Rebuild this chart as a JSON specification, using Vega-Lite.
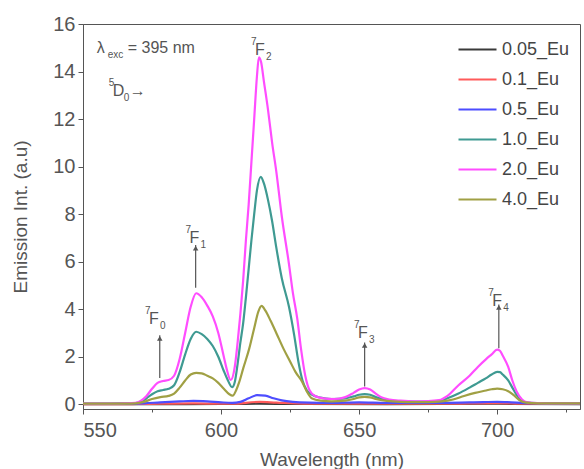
{
  "$schema": "https://vega.github.io/schema/vega-lite/v6.json",
  "autosize": "none",
  "width": 497,
  "height": 385,
  "padding": {"left": 83, "top": 24, "right": 4, "bottom": 60},
  "background": "white",
  "config": {
    "font": "Liberation Sans",
    "view": {"stroke": "#555", "strokeWidth": 1}
  },
  "datasets": {
    "spec": [
      {"w":550,"s":"0.05_Eu","v":0.0},{"w":580,"s":"0.05_Eu","v":0.0},{"w":600,"s":"0.05_Eu","v":0.01},{"w":614,"s":"0.05_Eu","v":0.03},{"w":630,"s":"0.05_Eu","v":0.01},{"w":660,"s":"0.05_Eu","v":0.0},{"w":700,"s":"0.05_Eu","v":0.02},{"w":730,"s":"0.05_Eu","v":0.0},
      {"w":550,"s":"0.1_Eu","v":0.0},{"w":570,"s":"0.1_Eu","v":0.01},{"w":590,"s":"0.1_Eu","v":0.04},{"w":604,"s":"0.1_Eu","v":0.02},{"w":614,"s":"0.1_Eu","v":0.1},{"w":620,"s":"0.1_Eu","v":0.07},{"w":630,"s":"0.1_Eu","v":0.03},{"w":650,"s":"0.1_Eu","v":0.03},{"w":680,"s":"0.1_Eu","v":0.02},{"w":700,"s":"0.1_Eu","v":0.05},{"w":710,"s":"0.1_Eu","v":0.02},{"w":730,"s":"0.1_Eu","v":0.02},
      {"w":550,"s":"0.5_Eu","v":0.02},{"w":565,"s":"0.5_Eu","v":0.02},{"w":572,"s":"0.5_Eu","v":0.04},{"w":578,"s":"0.5_Eu","v":0.08},{"w":585,"s":"0.5_Eu","v":0.12},{"w":590,"s":"0.5_Eu","v":0.14},{"w":595,"s":"0.5_Eu","v":0.12},{"w":600,"s":"0.5_Eu","v":0.08},{"w":604,"s":"0.5_Eu","v":0.06},{"w":607,"s":"0.5_Eu","v":0.1},{"w":610,"s":"0.5_Eu","v":0.25},{"w":613,"s":"0.5_Eu","v":0.38},{"w":616,"s":"0.5_Eu","v":0.36},{"w":619,"s":"0.5_Eu","v":0.25},{"w":622,"s":"0.5_Eu","v":0.16},{"w":626,"s":"0.5_Eu","v":0.1},{"w":632,"s":"0.5_Eu","v":0.07},{"w":640,"s":"0.5_Eu","v":0.06},{"w":650,"s":"0.5_Eu","v":0.08},{"w":660,"s":"0.5_Eu","v":0.06},{"w":680,"s":"0.5_Eu","v":0.06},{"w":695,"s":"0.5_Eu","v":0.09},{"w":700,"s":"0.5_Eu","v":0.1},{"w":705,"s":"0.5_Eu","v":0.08},{"w":710,"s":"0.5_Eu","v":0.05},{"w":720,"s":"0.5_Eu","v":0.04},{"w":730,"s":"0.5_Eu","v":0.04},
      {"w":550,"s":"1.0_Eu","v":0.03},{"w":560,"s":"1.0_Eu","v":0.03},{"w":565,"s":"1.0_Eu","v":0.04},{"w":569,"s":"1.0_Eu","v":0.05},{"w":571,"s":"1.0_Eu","v":0.1},{"w":573,"s":"1.0_Eu","v":0.25},{"w":575,"s":"1.0_Eu","v":0.42},{"w":577,"s":"1.0_Eu","v":0.55},{"w":579,"s":"1.0_Eu","v":0.6},{"w":581,"s":"1.0_Eu","v":0.65},{"w":583,"s":"1.0_Eu","v":0.8},{"w":585,"s":"1.0_Eu","v":1.35},{"w":587,"s":"1.0_Eu","v":2.1},{"w":589,"s":"1.0_Eu","v":2.75},{"w":591,"s":"1.0_Eu","v":3.05},{"w":593,"s":"1.0_Eu","v":2.95},{"w":595,"s":"1.0_Eu","v":2.75},{"w":597,"s":"1.0_Eu","v":2.45},{"w":599,"s":"1.0_Eu","v":2.0},{"w":601,"s":"1.0_Eu","v":1.4},{"w":602.5,"s":"1.0_Eu","v":1.0},{"w":604,"s":"1.0_Eu","v":0.72},{"w":605,"s":"1.0_Eu","v":0.95},{"w":606,"s":"1.0_Eu","v":1.7},{"w":607,"s":"1.0_Eu","v":2.6},{"w":608,"s":"1.0_Eu","v":3.4},{"w":609,"s":"1.0_Eu","v":4.5},{"w":610,"s":"1.0_Eu","v":5.7},{"w":611,"s":"1.0_Eu","v":6.9},{"w":612,"s":"1.0_Eu","v":8.0},{"w":613,"s":"1.0_Eu","v":9.0},{"w":614.4,"s":"1.0_Eu","v":9.57},{"w":615.5,"s":"1.0_Eu","v":9.3},{"w":617,"s":"1.0_Eu","v":8.6},{"w":618.5,"s":"1.0_Eu","v":7.7},{"w":620,"s":"1.0_Eu","v":6.6},{"w":622,"s":"1.0_Eu","v":5.3},{"w":624.6,"s":"1.0_Eu","v":4.1},{"w":626.5,"s":"1.0_Eu","v":2.9},{"w":628,"s":"1.0_Eu","v":1.8},{"w":629.5,"s":"1.0_Eu","v":1.0},{"w":631,"s":"1.0_Eu","v":0.6},{"w":633,"s":"1.0_Eu","v":0.4},{"w":636,"s":"1.0_Eu","v":0.28},{"w":640,"s":"1.0_Eu","v":0.22},{"w":645,"s":"1.0_Eu","v":0.25},{"w":648,"s":"1.0_Eu","v":0.33},{"w":650,"s":"1.0_Eu","v":0.4},{"w":652,"s":"1.0_Eu","v":0.43},{"w":654,"s":"1.0_Eu","v":0.4},{"w":656,"s":"1.0_Eu","v":0.3},{"w":659,"s":"1.0_Eu","v":0.2},{"w":665,"s":"1.0_Eu","v":0.13},{"w":670,"s":"1.0_Eu","v":0.11},{"w":675,"s":"1.0_Eu","v":0.11},{"w":679,"s":"1.0_Eu","v":0.14},{"w":682,"s":"1.0_Eu","v":0.25},{"w":686,"s":"1.0_Eu","v":0.45},{"w":690,"s":"1.0_Eu","v":0.7},{"w":693,"s":"1.0_Eu","v":0.9},{"w":696,"s":"1.0_Eu","v":1.1},{"w":698,"s":"1.0_Eu","v":1.25},{"w":700,"s":"1.0_Eu","v":1.36},{"w":701,"s":"1.0_Eu","v":1.35},{"w":702,"s":"1.0_Eu","v":1.25},{"w":704,"s":"1.0_Eu","v":1.0},{"w":705.5,"s":"1.0_Eu","v":0.7},{"w":707,"s":"1.0_Eu","v":0.4},{"w":709,"s":"1.0_Eu","v":0.15},{"w":711,"s":"1.0_Eu","v":0.07},{"w":715,"s":"1.0_Eu","v":0.05},{"w":720,"s":"1.0_Eu","v":0.04},{"w":730,"s":"1.0_Eu","v":0.04},
      {"w":550,"s":"2.0_Eu","v":0.03},{"w":555,"s":"2.0_Eu","v":0.03},{"w":560,"s":"2.0_Eu","v":0.03},{"w":565,"s":"2.0_Eu","v":0.04},{"w":569,"s":"2.0_Eu","v":0.06},{"w":571,"s":"2.0_Eu","v":0.15},{"w":573,"s":"2.0_Eu","v":0.35},{"w":575,"s":"2.0_Eu","v":0.65},{"w":577,"s":"2.0_Eu","v":0.9},{"w":579,"s":"2.0_Eu","v":0.98},{"w":581,"s":"2.0_Eu","v":1.02},{"w":583,"s":"2.0_Eu","v":1.2},{"w":585,"s":"2.0_Eu","v":1.9},{"w":587,"s":"2.0_Eu","v":3.0},{"w":589,"s":"2.0_Eu","v":4.1},{"w":591,"s":"2.0_Eu","v":4.67},{"w":593,"s":"2.0_Eu","v":4.5},{"w":595,"s":"2.0_Eu","v":4.15},{"w":597,"s":"2.0_Eu","v":3.7},{"w":599,"s":"2.0_Eu","v":3.0},{"w":601,"s":"2.0_Eu","v":2.0},{"w":602,"s":"2.0_Eu","v":1.5},{"w":603.5,"s":"2.0_Eu","v":1.02},{"w":605,"s":"2.0_Eu","v":1.6},{"w":606,"s":"2.0_Eu","v":2.6},{"w":607,"s":"2.0_Eu","v":3.8},{"w":608,"s":"2.0_Eu","v":5.2},{"w":609,"s":"2.0_Eu","v":6.9},{"w":610,"s":"2.0_Eu","v":8.4},{"w":611,"s":"2.0_Eu","v":10.2},{"w":612,"s":"2.0_Eu","v":12.0},{"w":613,"s":"2.0_Eu","v":13.8},{"w":613.7,"s":"2.0_Eu","v":14.6},{"w":614.5,"s":"2.0_Eu","v":14.4},{"w":615.5,"s":"2.0_Eu","v":13.6},{"w":617,"s":"2.0_Eu","v":12.4},{"w":618.5,"s":"2.0_Eu","v":11.0},{"w":620,"s":"2.0_Eu","v":9.8},{"w":622,"s":"2.0_Eu","v":7.9},{"w":624.6,"s":"2.0_Eu","v":5.9},{"w":626,"s":"2.0_Eu","v":4.7},{"w":627.6,"s":"2.0_Eu","v":3.6},{"w":629,"s":"2.0_Eu","v":2.3},{"w":630.5,"s":"2.0_Eu","v":1.2},{"w":632,"s":"2.0_Eu","v":0.6},{"w":634,"s":"2.0_Eu","v":0.35},{"w":637,"s":"2.0_Eu","v":0.25},{"w":641,"s":"2.0_Eu","v":0.22},{"w":645,"s":"2.0_Eu","v":0.3},{"w":648,"s":"2.0_Eu","v":0.48},{"w":650,"s":"2.0_Eu","v":0.62},{"w":652,"s":"2.0_Eu","v":0.68},{"w":654,"s":"2.0_Eu","v":0.62},{"w":656,"s":"2.0_Eu","v":0.45},{"w":658,"s":"2.0_Eu","v":0.3},{"w":661,"s":"2.0_Eu","v":0.2},{"w":665,"s":"2.0_Eu","v":0.15},{"w":670,"s":"2.0_Eu","v":0.12},{"w":675,"s":"2.0_Eu","v":0.13},{"w":679,"s":"2.0_Eu","v":0.17},{"w":682,"s":"2.0_Eu","v":0.35},{"w":686,"s":"2.0_Eu","v":0.8},{"w":690,"s":"2.0_Eu","v":1.2},{"w":693,"s":"2.0_Eu","v":1.57},{"w":696,"s":"2.0_Eu","v":1.9},{"w":698,"s":"2.0_Eu","v":2.1},{"w":700,"s":"2.0_Eu","v":2.3},{"w":701,"s":"2.0_Eu","v":2.25},{"w":702,"s":"2.0_Eu","v":2.05},{"w":704,"s":"2.0_Eu","v":1.57},{"w":705.5,"s":"2.0_Eu","v":1.0},{"w":707,"s":"2.0_Eu","v":0.55},{"w":709,"s":"2.0_Eu","v":0.2},{"w":711,"s":"2.0_Eu","v":0.08},{"w":715,"s":"2.0_Eu","v":0.05},{"w":720,"s":"2.0_Eu","v":0.04},{"w":725,"s":"2.0_Eu","v":0.04},{"w":730,"s":"2.0_Eu","v":0.04},
      {"w":550,"s":"4.0_Eu","v":0.03},{"w":560,"s":"4.0_Eu","v":0.03},{"w":565,"s":"4.0_Eu","v":0.03},{"w":569,"s":"4.0_Eu","v":0.04},{"w":572,"s":"4.0_Eu","v":0.1},{"w":575,"s":"4.0_Eu","v":0.22},{"w":578,"s":"4.0_Eu","v":0.3},{"w":581,"s":"4.0_Eu","v":0.35},{"w":583,"s":"4.0_Eu","v":0.45},{"w":585,"s":"4.0_Eu","v":0.7},{"w":587,"s":"4.0_Eu","v":1.0},{"w":589,"s":"4.0_Eu","v":1.25},{"w":591,"s":"4.0_Eu","v":1.32},{"w":593,"s":"4.0_Eu","v":1.3},{"w":595,"s":"4.0_Eu","v":1.2},{"w":597,"s":"4.0_Eu","v":1.09},{"w":599,"s":"4.0_Eu","v":0.9},{"w":601,"s":"4.0_Eu","v":0.65},{"w":603,"s":"4.0_Eu","v":0.42},{"w":604.2,"s":"4.0_Eu","v":0.36},{"w":605.5,"s":"4.0_Eu","v":0.6},{"w":606.6,"s":"4.0_Eu","v":0.94},{"w":608,"s":"4.0_Eu","v":1.5},{"w":610.2,"s":"4.0_Eu","v":2.34},{"w":612,"s":"4.0_Eu","v":3.2},{"w":613.5,"s":"4.0_Eu","v":3.9},{"w":614.7,"s":"4.0_Eu","v":4.14},{"w":616,"s":"4.0_Eu","v":3.95},{"w":618,"s":"4.0_Eu","v":3.5},{"w":620,"s":"4.0_Eu","v":3.0},{"w":622.6,"s":"4.0_Eu","v":2.34},{"w":625,"s":"4.0_Eu","v":1.8},{"w":627,"s":"4.0_Eu","v":1.35},{"w":629.4,"s":"4.0_Eu","v":0.94},{"w":631,"s":"4.0_Eu","v":0.55},{"w":633,"s":"4.0_Eu","v":0.24},{"w":636,"s":"4.0_Eu","v":0.15},{"w":640,"s":"4.0_Eu","v":0.12},{"w":645,"s":"4.0_Eu","v":0.15},{"w":648,"s":"4.0_Eu","v":0.22},{"w":650,"s":"4.0_Eu","v":0.29},{"w":652,"s":"4.0_Eu","v":0.31},{"w":654,"s":"4.0_Eu","v":0.29},{"w":656,"s":"4.0_Eu","v":0.22},{"w":660,"s":"4.0_Eu","v":0.14},{"w":665,"s":"4.0_Eu","v":0.1},{"w":670,"s":"4.0_Eu","v":0.09},{"w":675,"s":"4.0_Eu","v":0.09},{"w":680,"s":"4.0_Eu","v":0.12},{"w":684,"s":"4.0_Eu","v":0.2},{"w":688,"s":"4.0_Eu","v":0.35},{"w":692,"s":"4.0_Eu","v":0.48},{"w":696,"s":"4.0_Eu","v":0.58},{"w":698,"s":"4.0_Eu","v":0.63},{"w":700,"s":"4.0_Eu","v":0.66},{"w":702,"s":"4.0_Eu","v":0.63},{"w":704,"s":"4.0_Eu","v":0.55},{"w":706,"s":"4.0_Eu","v":0.38},{"w":708,"s":"4.0_Eu","v":0.18},{"w":710,"s":"4.0_Eu","v":0.08},{"w":715,"s":"4.0_Eu","v":0.04},{"w":720,"s":"4.0_Eu","v":0.04},{"w":730,"s":"4.0_Eu","v":0.04}
    ],
    "notes": [
      {"w":555.0,"v":15.0,"sup":"","main":"λ","sub":"exc"},
      {"w":560.8,"v":13.2,"sup":"5","main":"D","sub":"0"},
      {"w":573.9,"v":3.57,"sup":"7","main":"F","sub":"0"},
      {"w":588.6,"v":6.98,"sup":"7","main":"F","sub":"1"},
      {"w":612.3,"v":14.9,"sup":"7","main":"F","sub":"2"},
      {"w":649.6,"v":2.98,"sup":"7","main":"F","sub":"3"},
      {"w":698.2,"v":4.35,"sup":"7","main":"F","sub":"4"}
    ],
    "extra": [
      {"w":566.2,"v":15.0,"t":"= 395 nm"},
      {"w":566.9,"v":13.2,"t":"→"}
    ],
    "arrows": [
      {"w":577.8,"v0":1.1,"v1":2.9},
      {"w":590.8,"v0":4.9,"v1":6.7},
      {"w":652.0,"v0":0.75,"v1":2.6},
      {"w":700.6,"v0":2.36,"v1":4.2}
    ]
  },
  "layer": [
    {
      "data": {"name": "spec"},
      "mark": {"type": "line", "strokeWidth": 2.2, "interpolate": "monotone", "clip": true},
      "encoding": {
        "x": {
          "field": "w", "type": "quantitative",
          "scale": {"domain": [550, 730], "nice": false, "zero": false},
          "axis": {
            "title": "Wavelength (nm)",
            "values": [550, 575, 600, 625, 650, 675, 700, 725],
            "labelExpr": "datum.value % 50 === 0 ? datum.label : ''",
            "grid": false,
            "domainColor": "#555",
            "tickColor": "#555",
            "tickSize": {"condition": {"test": "datum.value % 50 !== 0", "value": 3}, "value": 5},
            "labelFontSize": 20, "labelColor": "#555", "labelPadding": 6,
            "titleFontSize": 19, "titleColor": "#555", "titleFontWeight": "normal", "titlePadding": 10
          }
        },
        "y": {
          "field": "v", "type": "quantitative",
          "scale": {"domain": [-0.2, 16], "nice": false, "zero": false},
          "axis": {
            "title": "Emission Int. (a.u)",
            "values": [0,1,2,3,4,5,6,7,8,9,10,11,12,13,14,15,16],
            "labelExpr": "datum.value % 2 === 0 ? datum.label : ''",
            "grid": false,
            "domainColor": "#555",
            "tickColor": "#555",
            "tickSize": {"condition": {"test": "datum.value % 2 !== 0", "value": 3}, "value": 5},
            "labelFontSize": 20, "labelColor": "#555", "labelPadding": 3,
            "titleFontSize": 19, "titleColor": "#555", "titleFontWeight": "normal", "titlePadding": 22
          }
        },
        "color": {
          "field": "s", "type": "nominal",
          "scale": {
            "domain": ["0.05_Eu", "0.1_Eu", "0.5_Eu", "1.0_Eu", "2.0_Eu", "4.0_Eu"],
            "range": ["#3a3a3a", "#ff5a5a", "#4d4dff", "#3f9a92", "#ff4dff", "#a0a044"]
          },
          "legend": {
            "title": null,
            "orient": "none",
            "legendX": 374,
            "legendY": 5,
            "symbolType": "stroke",
            "symbolSize": 1444,
            "symbolStrokeWidth": 2.2,
            "labelFontSize": 18,
            "labelColor": "#444",
            "labelOffset": 4,
            "rowPadding": -9
          }
        }
      }
    },
    {
      "data": {"name": "arrows"},
      "mark": {"type": "rule", "color": "#555", "strokeWidth": 1.2},
      "encoding": {
        "x": {"field": "w", "type": "quantitative"},
        "y": {"field": "v0", "type": "quantitative"},
        "y2": {"field": "v1"}
      }
    },
    {
      "data": {"name": "arrows"},
      "mark": {"type": "point", "shape": "triangle-up", "filled": true, "color": "#555", "size": 30, "opacity": 1, "yOffset": 3},
      "encoding": {
        "x": {"field": "w", "type": "quantitative"},
        "y": {"field": "v1", "type": "quantitative"}
      }
    },
    {
      "data": {"name": "notes"},
      "mark": {"type": "text", "align": "left", "baseline": "middle", "fontSize": 16, "color": "#555"},
      "encoding": {
        "x": {"field": "w", "type": "quantitative"},
        "y": {"field": "v", "type": "quantitative"},
        "text": {"field": "main"}
      }
    },
    {
      "data": {"name": "notes"},
      "mark": {"type": "text", "align": "left", "baseline": "middle", "fontSize": 10, "color": "#555", "dx": -4, "dy": -8},
      "encoding": {
        "x": {"field": "w", "type": "quantitative"},
        "y": {"field": "v", "type": "quantitative"},
        "text": {"field": "sup"}
      }
    },
    {
      "data": {"name": "notes"},
      "mark": {"type": "text", "align": "left", "baseline": "middle", "fontSize": 10, "color": "#555", "dx": 11, "dy": 7},
      "encoding": {
        "x": {"field": "w", "type": "quantitative"},
        "y": {"field": "v", "type": "quantitative"},
        "text": {"field": "sub"}
      }
    },
    {
      "data": {"name": "extra"},
      "mark": {"type": "text", "align": "left", "baseline": "middle", "fontSize": 16, "color": "#555"},
      "encoding": {
        "x": {"field": "w", "type": "quantitative"},
        "y": {"field": "v", "type": "quantitative"},
        "text": {"field": "t"}
      }
    }
  ]
}
